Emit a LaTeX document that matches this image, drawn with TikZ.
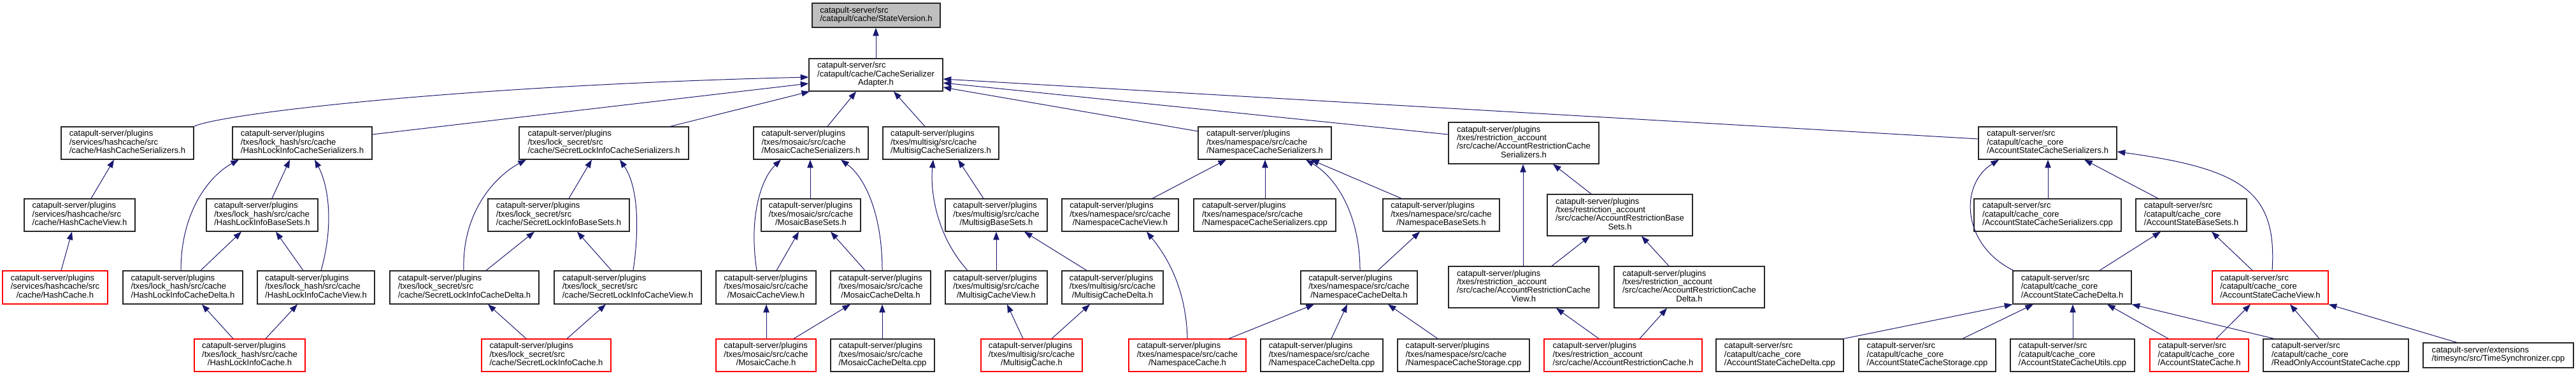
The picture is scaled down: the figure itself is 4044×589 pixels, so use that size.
\documentclass[tikz,border=0pt]{standalone}
\usepackage{fontspec}
\setmainfont{Liberation Sans}
\usetikzlibrary{arrows.meta,calc}
\definecolor{midnight}{HTML}{191970}
\definecolor{rootgray}{HTML}{BFBFBF}
\newcommand{\lb}[2]{\begin{tabular}{@{}l@{}}#1\\\multicolumn{1}{@{}c@{}}{#2}\end{tabular}}
\newcommand{\bn}[7]{\node[#6, minimum width={(#4-#2)*0.75pt}, minimum height={(#5-#3)*0.75pt}] (#1) at ({(#2+#4)/2},{(#3+#5)/2}) {#7};}
\newcommand{\ed}[4]{\draw[edge] (#1.north -| #2,0) -- (#3.south -| #4,0);}
\tikzset{
  box/.style={draw=black!85, line width=0.9pt, fill=white, inner sep=0pt, font=\fontsize{9.8}{9.8}\selectfont},
  redbox/.style={box, draw=red},
  rootbox/.style={box, fill=rootgray},
  edge/.style={draw=midnight, line width=0.75pt, -{Triangle[length=9.5pt,width=7pt]}}
}
\begin{document}
\begin{tikzpicture}[x=0.75pt,y=-0.75pt]
\useasboundingbox[fill=white] (0,0) rectangle (4044,589);
% row 0-1
\bn{root}{1275}{5}{1476}{43}{rootbox}{\lb{catapult-server/src}{/catapult/cache/StateVersion.h}}
\bn{csa}{1270}{92}{1480}{143}{box}{\lb{catapult-server/src\\/catapult/cache/CacheSerializer}{Adapter.h}}
% row 2
\bn{hcs}{96}{199}{304}{250}{box}{\lb{catapult-server/plugins\\/services/hashcache/src}{/cache/HashCacheSerializers.h}}
\bn{hlics}{365}{199}{584}{250}{box}{\lb{catapult-server/plugins\\/txes/lock\_hash/src/cache}{/HashLockInfoCacheSerializers.h}}
\bn{slics}{815}{199}{1081}{250}{box}{\lb{catapult-server/plugins\\/txes/lock\_secret/src}{/cache/SecretLockInfoCacheSerializers.h}}
\bn{mcs}{1183}{199}{1363}{250}{box}{\lb{catapult-server/plugins\\/txes/mosaic/src/cache}{/MosaicCacheSerializers.h}}
\bn{mucs}{1386}{199}{1568}{250}{box}{\lb{catapult-server/plugins\\/txes/multisig/src/cache}{/MultisigCacheSerializers.h}}
\bn{ncs}{1881}{199}{2090}{250}{box}{\lb{catapult-server/plugins\\/txes/namespace/src/cache}{/NamespaceCacheSerializers.h}}
\bn{arcs}{2274}{192}{2510}{257}{box}{\lb{catapult-server/plugins\\/txes/restriction\_account\\/src/cache/AccountRestrictionCache}{Serializers.h}}
\bn{ascs}{3106}{199}{3323}{250}{box}{\lb{catapult-server/src\\/catapult/cache\_core}{/AccountStateCacheSerializers.h}}
% row 3
\bn{hcv}{38}{312}{212}{363}{box}{\lb{catapult-server/plugins\\/services/hashcache/src}{/cache/HashCacheView.h}}
\bn{hlibs}{324}{312}{499}{363}{box}{\lb{catapult-server/plugins\\/txes/lock\_hash/src/cache}{/HashLockInfoBaseSets.h}}
\bn{slibs}{766}{312}{988}{363}{box}{\lb{catapult-server/plugins\\/txes/lock\_secret/src}{/cache/SecretLockInfoBaseSets.h}}
\bn{mbs}{1195}{312}{1351}{363}{box}{\lb{catapult-server/plugins\\/txes/mosaic/src/cache}{/MosaicBaseSets.h}}
\bn{mubs}{1484}{312}{1644}{363}{box}{\lb{catapult-server/plugins\\/txes/multisig/src/cache}{/MultisigBaseSets.h}}
\bn{ncv}{1667}{312}{1850}{363}{box}{\lb{catapult-server/plugins\\/txes/namespace/src/cache}{/NamespaceCacheView.h}}
\bn{ncscpp}{1874}{312}{2097}{363}{box}{\lb{catapult-server/plugins\\/txes/namespace/src/cache}{/NamespaceCacheSerializers.cpp}}
\bn{nbs}{2171}{312}{2354}{363}{box}{\lb{catapult-server/plugins\\/txes/namespace/src/cache}{/NamespaceBaseSets.h}}
\bn{arbs}{2429}{305}{2657}{370}{box}{\lb{catapult-server/plugins\\/txes/restriction\_account\\/src/cache/AccountRestrictionBase}{Sets.h}}
\bn{ascscpp}{3099}{312}{3330}{363}{box}{\lb{catapult-server/src\\/catapult/cache\_core}{/AccountStateCacheSerializers.cpp}}
\bn{asbs}{3353}{312}{3527}{363}{box}{\lb{catapult-server/src\\/catapult/cache\_core}{/AccountStateBaseSets.h}}
% row 4
\bn{hc}{4}{425}{169}{477}{redbox}{\lb{catapult-server/plugins\\/services/hashcache/src}{/cache/HashCache.h}}
\bn{hlicd}{193}{425}{381}{477}{box}{\lb{catapult-server/plugins\\/txes/lock\_hash/src/cache}{/HashLockInfoCacheDelta.h}}
\bn{hlicv}{404}{425}{588}{477}{box}{\lb{catapult-server/plugins\\/txes/lock\_hash/src/cache}{/HashLockInfoCacheView.h}}
\bn{slicd}{612}{425}{846}{477}{box}{\lb{catapult-server/plugins\\/txes/lock\_secret/src}{/cache/SecretLockInfoCacheDelta.h}}
\bn{slicv}{870}{425}{1101}{477}{box}{\lb{catapult-server/plugins\\/txes/lock\_secret/src}{/cache/SecretLockInfoCacheView.h}}
\bn{mcv}{1124}{425}{1281}{477}{box}{\lb{catapult-server/plugins\\/txes/mosaic/src/cache}{/MosaicCacheView.h}}
\bn{mcd}{1304}{425}{1461}{477}{box}{\lb{catapult-server/plugins\\/txes/mosaic/src/cache}{/MosaicCacheDelta.h}}
\bn{mucv}{1484}{425}{1644}{477}{box}{\lb{catapult-server/plugins\\/txes/multisig/src/cache}{/MultisigCacheView.h}}
\bn{mucd}{1667}{425}{1826}{477}{box}{\lb{catapult-server/plugins\\/txes/multisig/src/cache}{/MultisigCacheDelta.h}}
\bn{ncd}{2042}{425}{2225}{477}{box}{\lb{catapult-server/plugins\\/txes/namespace/src/cache}{/NamespaceCacheDelta.h}}
\bn{arcv}{2274}{418}{2510}{483}{box}{\lb{catapult-server/plugins\\/txes/restriction\_account\\/src/cache/AccountRestrictionCache}{View.h}}
\bn{arcd}{2534}{418}{2770}{483}{box}{\lb{catapult-server/plugins\\/txes/restriction\_account\\/src/cache/AccountRestrictionCache}{Delta.h}}
\bn{ascd}{3160}{425}{3346}{477}{box}{\lb{catapult-server/src\\/catapult/cache\_core}{/AccountStateCacheDelta.h}}
\bn{ascv}{3473}{425}{3655}{477}{redbox}{\lb{catapult-server/src\\/catapult/cache\_core}{/AccountStateCacheView.h}}
% row 5
\bn{hlic}{305}{532}{479}{583}{redbox}{\lb{catapult-server/plugins\\/txes/lock\_hash/src/cache}{/HashLockInfoCache.h}}
\bn{slic}{756}{532}{959}{583}{redbox}{\lb{catapult-server/plugins\\/txes/lock\_secret/src}{/cache/SecretLockInfoCache.h}}
\bn{mc}{1124}{532}{1281}{583}{redbox}{\lb{catapult-server/plugins\\/txes/mosaic/src/cache}{/MosaicCache.h}}
\bn{mcdcpp}{1304}{532}{1467}{583}{box}{\lb{catapult-server/plugins\\/txes/mosaic/src/cache}{/MosaicCacheDelta.cpp}}
\bn{muc}{1540}{532}{1699}{583}{redbox}{\lb{catapult-server/plugins\\/txes/multisig/src/cache}{/MultisigCache.h}}
\bn{nc}{1772}{532}{1956}{583}{redbox}{\lb{catapult-server/plugins\\/txes/namespace/src/cache}{/NamespaceCache.h}}
\bn{ncdcpp}{1979}{532}{2171}{583}{box}{\lb{catapult-server/plugins\\/txes/namespace/src/cache}{/NamespaceCacheDelta.cpp}}
\bn{ncstcpp}{2194}{532}{2401}{583}{box}{\lb{catapult-server/plugins\\/txes/namespace/src/cache}{/NamespaceCacheStorage.cpp}}
\bn{arc}{2424}{532}{2672}{583}{redbox}{\lb{catapult-server/plugins\\/txes/restriction\_account}{/src/cache/AccountRestrictionCache.h}}
\bn{ascdcpp}{2694}{532}{2894}{583}{box}{\lb{catapult-server/src\\/catapult/cache\_core}{/AccountStateCacheDelta.cpp}}
\bn{ascstcpp}{2918}{532}{3133}{583}{box}{\lb{catapult-server/src\\/catapult/cache\_core}{/AccountStateCacheStorage.cpp}}
\bn{ascucpp}{3156}{532}{3351}{583}{box}{\lb{catapult-server/src\\/catapult/cache\_core}{/AccountStateCacheUtils.cpp}}
\bn{asc}{3375}{532}{3530}{583}{redbox}{\lb{catapult-server/src\\/catapult/cache\_core}{/AccountStateCache.h}}
\bn{roascpp}{3553}{532}{3781}{583}{box}{\lb{catapult-server/src\\/catapult/cache\_core}{/ReadOnlyAccountStateCache.cpp}}
\bn{ts}{3804}{538}{4040}{577}{box}{\lb{catapult-server/extensions}{/timesync/src/TimeSynchronizer.cpp}}
% edges to root and csa
\ed{csa}{1375}{root}{1375}
\draw[edge] (hcs.north east) .. controls (340,180) and (700,135) .. (csa.west |- 0,121);
\draw[edge] (hlics.east |- 0,211) -- (csa.west |- 0,131);
\ed{slics}{1052}{csa}{1271}
\ed{mcs}{1299}{csa}{1344}
\ed{mucs}{1452}{csa}{1403}
\draw[edge] (ncs.west |- 0,206) -- (csa.east |- 0,137);
\draw[edge] (arcs.west |- 0,211) -- (csa.east |- 0,130);
\draw[edge] (ascs.west |- 0,218) -- (csa.east |- 0,124);
% hash
\ed{hcv}{143}{hcs}{179}
\ed{hc}{96}{hcv}{113}
\draw[edge] (hlicd.north -| 284,0) .. controls (284,330) and (330,275) .. (hlics.south -| 375,0);
\ed{hlibs}{427}{hlics}{455}
\draw[edge] (hlicv.north -| 504,0) .. controls (525,350) and (515,290) .. (hlics.south -| 494,0);
\ed{hlicd}{315}{hlibs}{379}
\ed{hlicv}{476}{hlibs}{433}
\ed{hlic}{366}{hlicd}{317}
\ed{hlic}{417}{hlicv}{467}
% secret
\draw[edge] (slicd.north -| 728,0) .. controls (725,330) and (780,275) .. (slics.south -| 826,0);
\ed{slibs}{893}{slics}{929}
\draw[edge] (slicv.north -| 994,0) .. controls (1005,350) and (1000,290) .. (slics.south -| 973,0);
\ed{slicd}{763}{slibs}{839}
\ed{slicv}{960}{slibs}{906}
\ed{slic}{826}{slicd}{766}
\ed{slic}{890}{slicv}{951}
% mosaic
\draw[edge] (mcv.north -| 1188,0) .. controls (1175,340) and (1195,280) .. (mcs.south -| 1226,0);
\ed{mbs}{1272}{mcs}{1272}
\draw[edge] (mcd.north -| 1385,0) .. controls (1385,340) and (1360,280) .. (mcs.south -| 1320,0);
\ed{mcv}{1219}{mbs}{1254}
\ed{mcd}{1358}{mbs}{1304}
\ed{mc}{1203}{mcv}{1203}
\ed{mc}{1246}{mcd}{1335}
\ed{mcdcpp}{1385}{mcd}{1385}
% multisig
\draw[edge] (mucv.north -| 1519,0) .. controls (1470,370) and (1460,300) .. (mucs.south -| 1465,0);
\ed{mubs}{1544}{mucs}{1504}
\ed{mucv}{1564}{mubs}{1564}
\ed{mucd}{1706}{mubs}{1608}
\ed{muc}{1606}{mucv}{1581}
\ed{muc}{1651}{mucd}{1711}
% namespace
\ed{ncv}{1809}{ncs}{1925}
\ed{ncscpp}{1986}{ncs}{1986}
\draw[edge] (ncd.north -| 2135,0) .. controls (2135,340) and (2100,280) .. (ncs.south -| 2050,0);
\ed{nbs}{2200}{ncs}{2058}
\draw[edge] (nc.north -| 1864,0) .. controls (1862,450) and (1830,400) .. (ncv.south -| 1800,0);
\ed{ncd}{2163}{nbs}{2229}
\ed{nc}{1929}{ncd}{2063}
\ed{ncdcpp}{2090}{ncd}{2115}
\ed{ncstcpp}{2257}{ncd}{2179}
% account restriction
\ed{arcv}{2391}{arcs}{2391}
\ed{arbs}{2498}{arcs}{2438}
\ed{arcv}{2436}{arbs}{2496}
\ed{arcd}{2620}{arbs}{2577}
\ed{arc}{2510}{arcv}{2443}
\ed{arc}{2574}{arcd}{2617}
% account state
\draw[edge] (ascd.north -| 3161,0) .. controls (3080,385) and (3075,290) .. (ascs.south -| 3138,0);
\ed{ascscpp}{3215}{ascs}{3215}
\ed{asbs}{3388}{ascs}{3272}
\draw[edge] (ascv.north -| 3567,0) .. controls (3575,300) and (3520,265) .. (ascs.east |- 0,238);
\ed{ascd}{3296}{asbs}{3392}
\ed{ascv}{3536}{asbs}{3472}
\draw[edge] (ascdcpp.north east) -- (ascd.south west);
\ed{ascstcpp}{3081}{ascd}{3192}
\ed{ascucpp}{3254}{ascd}{3254}
\ed{asc}{3404}{ascd}{3308}
\draw[edge] (roascpp.north -| 3570,0) -- (ascd.south east);
\ed{asc}{3479}{ascv}{3533}
\ed{roascpp}{3641}{ascv}{3595}
\draw[edge] (ts.north -| 3857,0) -- (ascv.south east);
\end{tikzpicture}
\end{document}
